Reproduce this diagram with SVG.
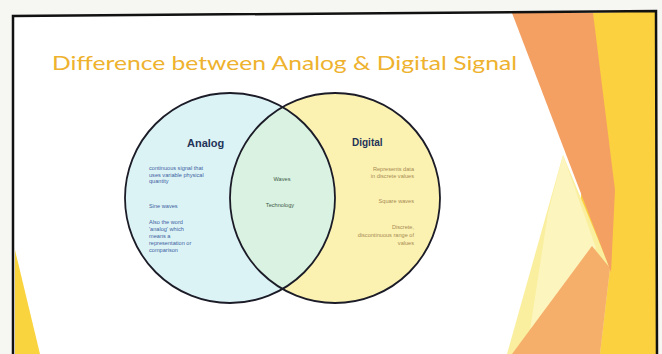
<svg xmlns="http://www.w3.org/2000/svg" width="662" height="354" viewBox="0 0 662 354">
  <defs>
    <style>
      .title { font-family: Lato, "Open Sans", sans-serif; font-size: 20px; fill: #eeb22e; }
      .head { font-family: "Liberation Sans", Arial, sans-serif; font-weight: bold; fill: #243458; }
      .an { font-family: "Liberation Sans", Arial, sans-serif; font-size: 5.6px; fill: #3d5f9e; }
      .mid { font-family: "Liberation Sans", Arial, sans-serif; font-size: 5.6px; fill: #3e5a48; text-anchor: middle; }
      .dg { font-family: "Liberation Sans", Arial, sans-serif; font-size: 5.6px; fill: #a88a52; text-anchor: end; }
      .circle { stroke: #1c1c28; stroke-width: 1.8; }
    </style>
    <clipPath id="clipLeft">
      <circle cx="230" cy="198" r="105"/>
    </clipPath>
  </defs>

  <!-- photo background and slide -->
  <rect x="0" y="0" width="662" height="354" fill="#f6f6f3"/>
  <polygon points="13,16 656,11 657,354 13,354" fill="#ffffff"/>

  <!-- right decorative facets -->
  <polygon points="588,13 656,11 657,354 575,354" fill="#fbd13f"/>
  <polygon points="563,155 610,268 600,354 507,354" fill="#faef9e"/>
  <polygon points="563,155 596,248 530,330 548,213" fill="#fcf5bd"/>
  <polygon points="592,246 610,268 600,354 512,354" fill="#f6ae6b"/>
  <polygon points="512,13 593,13 615,190 611,272" fill="#f4a063"/>
  <!-- left decorative facet -->
  <polygon points="15,250 15,354 40,354" fill="#f9d43e"/>

  <!-- slide frame -->
  <path d="M13,354 L13,16 L656,11 L657,354" fill="none" stroke="#111111" stroke-width="2.5"/>

  <!-- title -->
  <text class="title" x="52" y="70" textLength="465" lengthAdjust="spacingAndGlyphs">Difference between Analog &amp; Digital Signal</text>

  <!-- Venn diagram -->
  <g id="analog">
    <circle cx="230" cy="198" r="105" fill="#dcf3f6"/>
  </g>
  <g id="digital">
    <circle cx="335" cy="198" r="105" fill="#fbf2b2"/>
  </g>
  <g id="overlap">
    <circle cx="335" cy="198" r="105" fill="#d9f2e1" clip-path="url(#clipLeft)"/>
  </g>
  <g id="outlines" fill="none">
    <circle class="circle" cx="230" cy="198" r="105"/>
    <circle class="circle" cx="335" cy="198" r="105"/>
  </g>

  <g id="analog-text">
    <text class="head" x="187" y="147" font-size="11">Analog</text>
    <text class="an" x="149" y="170">continuous signal that</text>
    <text class="an" x="149" y="177">uses variable physical</text>
    <text class="an" x="149" y="183">quantity</text>
    <text class="an" x="149" y="208">Sine waves</text>
    <text class="an" x="149" y="224">Also the word</text>
    <text class="an" x="149" y="231">'analog' which</text>
    <text class="an" x="149" y="238">means a</text>
    <text class="an" x="149" y="245">representation or</text>
    <text class="an" x="149" y="252">comparison</text>
  </g>

  <g id="overlap-text">
    <text class="mid" x="282" y="181">Waves</text>
    <text class="mid" x="280" y="207">Technology</text>
  </g>

  <g id="digital-text">
    <text class="head" x="352" y="146" font-size="10" font-weight="normal">Digital</text>
    <text class="dg" x="414" y="171">Represents data</text>
    <text class="dg" x="414" y="178">in discrete values</text>
    <text class="dg" x="414" y="203" fill="#d98a2e">Square waves</text>
    <text class="dg" x="414" y="229">Discrete,</text>
    <text class="dg" x="414" y="237">discontinuous range of</text>
    <text class="dg" x="414" y="245">values</text>
  </g>

  <g id="connectors"/>
</svg>
